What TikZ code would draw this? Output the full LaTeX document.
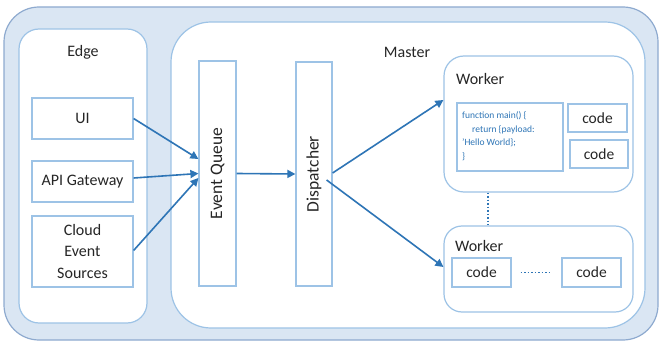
\documentclass[tikz,border=0pt]{standalone}
\usepackage{fontspec}
\setmainfont{Carlito}
\usetikzlibrary{arrows.meta}
\definecolor{outerfill}{HTML}{DAE6F3}
\definecolor{outerline}{HTML}{8EAACF}
\definecolor{boxline}{HTML}{9DC3E6}
\definecolor{arrowc}{HTML}{2E75B6}
\definecolor{txt}{HTML}{262626}
\tikzset{
  box/.style={draw=boxline, line width=1.2pt, fill=white, inner sep=0pt, text=txt, font=\fontsize{16}{21.5}\selectfont, align=center},
  codebox/.style={box, font=\fontsize{15.5}{18}\selectfont},
  rotbox/.style={box, font=\fontsize{17.5}{20}\selectfont},
  rbox/.style={box, rounded corners=#1},
  arr/.style={draw=arrowc, line width=1.6pt, -{Triangle[length=8pt,width=8pt]}},
  lbl/.style={text=txt, font=\fontsize{16}{18}\selectfont, inner sep=0pt},
}
\begin{document}
\begin{tikzpicture}[x=1pt,y=-1pt]
\useasboundingbox (0,0) rectangle (659,342);
\node[draw=outerline, fill=outerfill, line width=1.2pt, rounded corners=35pt, minimum width=654pt, minimum height=333pt, inner sep=0pt] (outer) at (331,173.5) {};
\node[rbox=20pt, minimum width=128pt, minimum height=294pt] (edge) at (83,176) {};
\node[rbox=40pt, minimum width=474pt, minimum height=306pt] (master) at (408,175) {};
\node[lbl] (edgelbl) at (83,52) {Edge};
\node[lbl] (masterlbl) at (407,52) {Master};
\node[box, minimum width=101pt, minimum height=41pt] (ui) at (82.5,118.5) {UI};
\node[box, minimum width=101pt, minimum height=41pt] (api) at (82.5,181.5) {API Gateway};
\node[box, minimum width=101pt, minimum height=71pt] (cloud) at (82.5,251.5) {Cloud\\Event\\Sources};
\node[rotbox, minimum width=37pt, minimum height=225pt] (eq) at (217.5,173.5) {\rotatebox{90}{Event Queue}};
\node[rotbox, minimum width=36pt, minimum height=224pt] (disp) at (314,174) {\rotatebox{90}{Dispatcher}};
\node[rbox=20pt, minimum width=189pt, minimum height=136pt] (w1) at (538.5,124) {};
\node[lbl, anchor=west] (w1lbl) at (456,79) {Worker};
\node[box, minimum width=106pt, minimum height=68pt] (func) at (510,137) {};
\node[anchor=north west, inner sep=0pt, text=arrowc, font=\fontsize{9.5}{13.5}\selectfont, align=left] (functxt) at (462,111.5) {function main() \{\\\hspace{10pt}return \{payload:\\'Hello World\};\\\}};
\node[codebox, minimum width=59pt, minimum height=28pt] (c1) at (597.5,118) {code};
\node[codebox, minimum width=58pt, minimum height=28pt] (c2) at (599,154) {code};
\node[rbox=18pt, minimum width=189pt, minimum height=86pt] (w2) at (538.5,269) {};
\node[lbl, anchor=west] (w2lbl) at (455,246) {Worker};
\node[codebox, minimum width=59pt, minimum height=29pt] (ca) at (481.5,272.5) {code};
\node[codebox, minimum width=59pt, minimum height=29pt] (cb) at (591.5,272.5) {code};
\draw[arrowc, line width=1.5pt, dotted] ([xshift=-50.5pt]w1.south) -- ([xshift=-50.5pt]w2.north);
\draw[arrowc, line width=1.5pt, dotted, shorten <=9pt, shorten >=11pt] (ca.east) -- (cb.west);
\draw[arr] (ui.east) -- ([yshift=14.5pt]eq.west);
\draw[arr] ([yshift=3.5pt]api.east) -- (eq.west);
\draw[arr] ([yshift=1pt]cloud.east) -- ([yshift=-4.5pt]eq.west);
\draw[arr] (eq.east) -- (disp.west);
\draw[arr] ([yshift=1pt]disp.east) -- ([yshift=24pt]w1.west);
\draw[arr] ([yshift=-6pt,xshift=-6pt]disp.east) -- ([yshift=2pt]w2.west);
\end{tikzpicture}
\end{document}
